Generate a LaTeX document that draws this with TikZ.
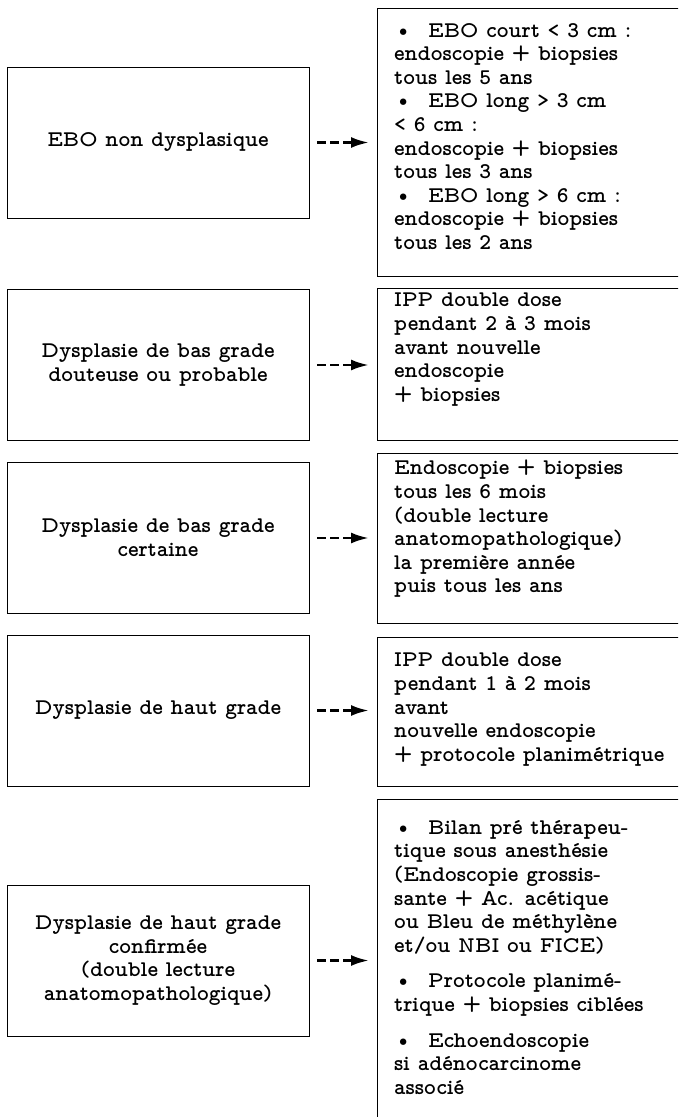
\documentclass[tikz,border=0pt]{standalone}
\usepackage{tikz}
\usetikzlibrary{arrows.meta}

\begin{document}
\begin{tikzpicture}[x=1pt,y=-1pt]
\tikzset{lbox/.style = {shape=rectangle,draw,line width=0.9pt,minimum width=302pt,minimum height=151pt,align=center,inner sep=0pt}}
\tikzset{rbox/.style = {shape=rectangle,draw,line width=0.9pt,minimum width=340pt,anchor=north west,inner sep=0pt}}
\tikzset{rtext/.style = {anchor=north west,align=left,inner sep=0pt}}
\tikzset{edge/.style = {->,> = {Latex[length=18pt,width=11pt]},line width=2.8pt,dash pattern=on 9pt off 4pt,shorten <=8pt,shorten >=8pt}}
\tikzset{every node/.style = {font=\fontfamily{lmvtt}\fontseries{b}\fontsize{22.4}{23.6}\selectfont}}
\useasboundingbox (0,0) rectangle (678,1117);
\clip (0,0) rectangle (678,1117);

\node[lbox] (l1) at (158,142.5) {EBO non dysplasique};
\node[lbox] (l2) at (158,365) {Dysplasie de bas grade\\douteuse ou probable};
\node[lbox] (l3) at (158,538) {Dysplasie de bas grade\\certaine};
\node[lbox] (l4) at (158,710.5) {Dysplasie de haut grade};
\node[lbox] (l5) at (158,960.5) {Dysplasie de haut grade\\confirmée\\(double lecture\\anatomopathologique)};

\node[rbox,minimum height=268pt] (r1) at (377,8) {};
\node[rbox,minimum height=152pt] (r2) at (377,288) {};
\node[rbox,minimum height=170pt] (r3) at (377,453) {};
\node[rbox,minimum height=149pt] (r4) at (377,637) {};
\node[rbox,minimum height=360pt] (r5) at (377,799) {};

\node[rtext] (t1) at (394,23) {\textbullet\ \ EBO court < 3 cm :\\endoscopie + biopsies\\tous les 5 ans\\\textbullet\ \ EBO long > 3 cm\\< 6 cm :\\endoscopie + biopsies\\tous les 3 ans\\\textbullet\ \ EBO long > 6 cm :\\endoscopie + biopsies\\tous les 2 ans};
\node[rtext] (t2) at (394,293) {IPP double dose\\pendant 2 à 3 mois\\avant nouvelle\\endoscopie\\+ biopsies};
\node[rtext] (t3) at (394,460) {Endoscopie + biopsies\\tous les 6 mois\\(double lecture\\anatomopathologique)\\la première année\\puis tous les ans};
\node[rtext] (t4) at (394,653) {IPP double dose\\pendant 1 à 2 mois\\avant\\nouvelle endoscopie\\+ protocole planimétrique};
\node[rtext] (t5) at (394,820) {\textbullet\ \ Bilan pré thérapeu-\\tique sous anesthésie\\(Endoscopie grossis-\\sante + Ac. acétique\\ou Bleu de méthylène\\et/ou NBI ou FICE)\\[12pt]\textbullet\ \ Protocole planimé-\\trique + biopsies ciblées\\[12pt]\textbullet\ \ Echoendoscopie\\si adénocarcinome\\associé};

\draw[edge] (l1.east) to (l1.east -| r1.west);
\draw[edge] (l2.east) to (l2.east -| r2.west);
\draw[edge] (l3.east) to (l3.east -| r3.west);
\draw[edge] (l4.east) to (l4.east -| r4.west);
\draw[edge] (l5.east) to (l5.east -| r5.west);
\end{tikzpicture}
\end{document}
